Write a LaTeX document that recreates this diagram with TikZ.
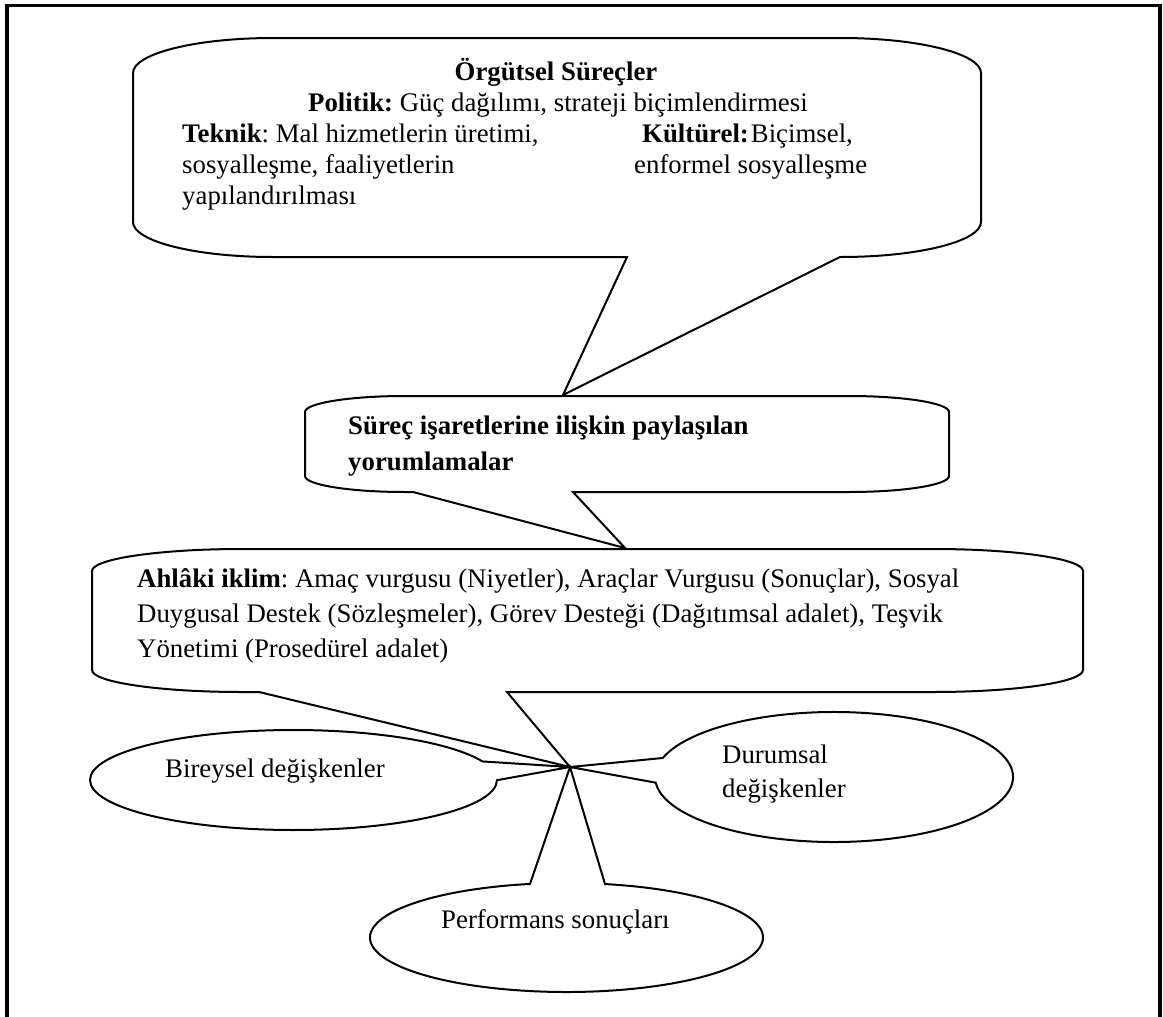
\documentclass[tikz,border=0pt]{standalone}
\usepackage{fontspec}
\setmainfont{Liberation Serif}
\frenchspacing
\begin{document}
\begin{tikzpicture}[x=1pt,y=-1pt,
  shapeline/.style={line width=2pt, line join=miter, fill=white},
  frameline/.style={line width=3.2pt, line join=miter},
  txt/.style={font=\fontsize{26.8pt}{31pt}\selectfont, inner sep=0pt, anchor=base west},
]
\useasboundingbox (0,0) rectangle (1163,1017);

% outer frame, open at the bottom
\draw[frameline] (7,1030) -- (7,5.5) -- (1160,5.5) -- (1160,1030);

% pointer tips
\coordinate (tipA) at (563,395);
\coordinate (tipB) at (625,548);
\coordinate (hub)  at (570,767);

% organisational processes callout
\draw[shapeline] (273,38) -- (841,38)
  arc[start angle=90,end angle=0,x radius=140pt,y radius=35pt] -- (981,222)
  arc[start angle=0,end angle=-90,x radius=140pt,y radius=35pt] -- (840,257)
  -- (tipA) -- (627,257) -- (273,257)
  arc[start angle=-90,end angle=-180,x radius=140pt,y radius=35pt] -- (133,73)
  arc[start angle=180,end angle=90,x radius=140pt,y radius=35pt] -- cycle;

% shared interpretations callout
\draw[shapeline] (405,396) -- (849,396)
  arc[start angle=90,end angle=0,x radius=100pt,y radius=16pt] -- (949,476)
  arc[start angle=0,end angle=-90,x radius=100pt,y radius=16pt] -- (573,492)
  -- (tipB) -- (413,492) -- (405,492)
  arc[start angle=-90,end angle=-180,x radius=100pt,y radius=16pt] -- (305,412)
  arc[start angle=180,end angle=90,x radius=100pt,y radius=16pt] -- cycle;

% ethical climate callout
\draw[shapeline] (242,549) -- (933,549)
  arc[start angle=90,end angle=0,x radius=150pt,y radius=22pt] -- (1083,670)
  arc[start angle=0,end angle=-90,x radius=150pt,y radius=22pt] -- (507,692)
  -- (hub) -- (259,692) -- (242,692)
  arc[start angle=-90,end angle=-180,x radius=150pt,y radius=22pt] -- (92,571)
  arc[start angle=180,end angle=90,x radius=150pt,y radius=22pt] -- cycle;

% elliptical callouts meeting at the hub
\draw[shapeline] ([shift={(-0.2:203.5pt and 50pt)}]293.5,780)
  arc[start angle=-0.2,end angle=-338.2,x radius=203.5pt,y radius=50pt] -- (hub) -- cycle;
\draw[shapeline] ([shift={(163:179pt and 65pt)}]834,777)
  arc[start angle=163,end angle=-175,x radius=179pt,y radius=65pt] -- (hub) -- cycle;
\draw[shapeline] ([shift={(78.7:196.5pt and 54.5pt)}]566.5,937.5)
  arc[start angle=78.7,end angle=-259.3,x radius=196.5pt,y radius=54.5pt] -- (hub) -- cycle;

% texts
\node[txt,anchor=base] (title) at (556,80) {\textbf{Örgütsel Süreçler}};
\node[txt] (politik) at (308,111) {\textbf{Politik:} Güç dağılımı, strateji biçimlendirmesi};
\node[txt] (teknik1) at (182,142) {\textbf{Teknik}: Mal hizmetlerin üretimi,};
\node[txt] (teknik2) at (182,173) {sosyalleşme, faaliyetlerin};
\node[txt] (teknik3) at (182,204) {yapılandırılması};
\node[txt] (kultur1) at (642,142) {\textbf{Kültürel:}\hspace{2pt}Biçimsel,};
\node[txt] (kultur2) at (634,173) {enformel sosyalleşme};

\node[txt] (yorum1) at (348,434) {\textbf{Süreç işaretlerine ilişkin paylaşılan}};
\node[txt] (yorum2) at (348,470) {\textbf{yorumlamalar}};

\node[txt] (ahlak1) at (137,587) {\textbf{Ahlâki iklim}: Amaç vurgusu (Niyetler), Araçlar Vurgusu (Sonuçlar), Sosyal};
\node[txt] (ahlak2) at (137,622) {Duygusal Destek (Sözleşmeler), Görev Desteği (Dağıtımsal adalet), Teşvik};
\node[txt] (ahlak3) at (137,657) {Yönetimi (Prosedürel adalet)};

\node[txt] (bireysel) at (165,777) {Bireysel değişkenler};
\node[txt] (durum1) at (722,763) {Durumsal};
\node[txt] (durum2) at (722,797) {değişkenler};
\node[txt] (perf) at (441,928) {Performans sonuçları};
\end{tikzpicture}
\end{document}
